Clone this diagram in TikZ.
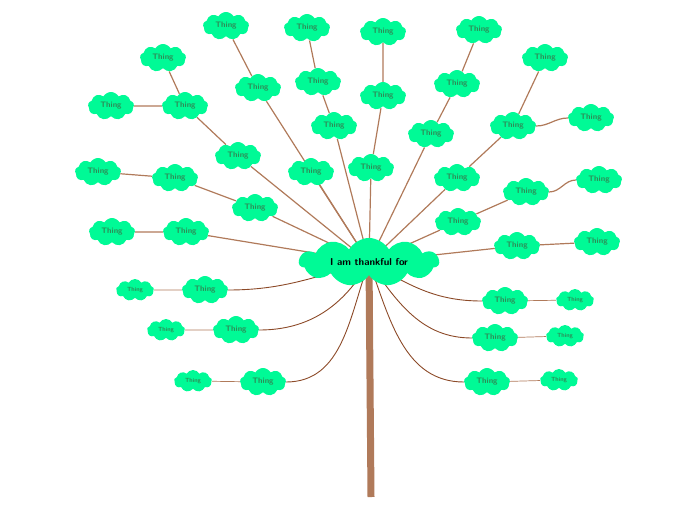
\documentclass[tikz,border=0pt]{standalone}
\usetikzlibrary{shapes.symbols,backgrounds}
\definecolor{cloudg}{RGB}{0,250,150}
\definecolor{txtg}{RGB}{46,139,87}
\definecolor{lbrown}{RGB}{176,122,90}
\definecolor{dbrown}{RGB}{140,74,40}
\tikzset{
 th/.style={cloud, cloud puffs=9, cloud puff arc=120, aspect=1.7, fill=cloudg, draw=none, inner sep=0pt, minimum width=46pt, minimum height=28pt, text=txtg, font=\sffamily\bfseries\fontsize{8}{9}\selectfont},
 ths/.style={th, minimum width=38pt, minimum height=22pt, font=\sffamily\bfseries\fontsize{6}{7}\selectfont},
 ctr/.style={cloud, cloud puffs=11, cloud puff arc=120, aspect=3.5, fill=cloudg, draw=none, inner sep=0pt, minimum width=140pt, minimum height=40pt, font=\sffamily\bfseries\fontsize{10}{12}\selectfont},
 ln/.style={lbrown, line width=1.2pt},
 cv/.style={dbrown, line width=0.9pt},
 tn/.style={lbrown, line width=0.7pt}
}
\begin{document}
\begin{tikzpicture}[x=1pt,y=-1pt]
\useasboundingbox (0,0) rectangle (696,520);
\coordinate (tb) at (371,497);
\node[ctr] (c) at (369,262) {I am thankful for};
\node[th] (a1) at (238,156) {Thing};
\node[th] (a2) at (185,106) {Thing};
\node[th] (a3) at (163,58) {Thing};
\node[th] (a4) at (111,106) {Thing};
\node[th] (b1) at (258,88) {Thing};
\node[th] (b2) at (226,26) {Thing};
\node[th] (d1) at (334,126) {Thing};
\node[th] (d2) at (318,82) {Thing};
\node[th] (d3) at (307,28) {Thing};
\node[th] (e1) at (371,168) {Thing};
\node[th] (e2) at (383,96) {Thing};
\node[th] (e3) at (383,32) {Thing};
\node[th] (f1) at (311,172) {Thing};
\node[th] (g1) at (431,134) {Thing};
\node[th] (g2) at (457,84) {Thing};
\node[th] (g3) at (479,30) {Thing};
\node[th] (h1) at (457,178) {Thing};
\node[th] (h2) at (513,126) {Thing};
\node[th] (h3) at (545,58) {Thing};
\node[th] (h4) at (591,118) {Thing};
\node[th] (i1) at (458,222) {Thing};
\node[th] (i2) at (526,192) {Thing};
\node[th] (i3) at (599,180) {Thing};
\node[th] (j1) at (517,246) {Thing};
\node[th] (j2) at (597,242) {Thing};
\node[th] (k1) at (255,208) {Thing};
\node[th] (k2) at (175,178) {Thing};
\node[th] (k3) at (98,172) {Thing};
\node[th] (l1) at (186,232) {Thing};
\node[th] (l2) at (112,232) {Thing};
\node[th] (m1) at (205,290) {Thing};
\node[ths] (m2) at (135,290) {Thing};
\node[th] (n1) at (236,330) {Thing};
\node[ths] (n2) at (166,330) {Thing};
\node[th] (o1) at (263,382) {Thing};
\node[ths] (o2) at (193,381) {Thing};
\node[th] (p1) at (505,301) {Thing};
\node[ths] (p2) at (575,300) {Thing};
\node[th] (q1) at (495,338) {Thing};
\node[ths] (q2) at (565,336) {Thing};
\node[th] (r1) at (487,382) {Thing};
\node[ths] (r2) at (559,380) {Thing};
\begin{scope}[on background layer]
\draw[lbrown, line width=7pt] (c.center) -- (tb);
\draw[ln] (c.center) -- (a1) -- (a2) -- (a3);
\draw[ln] (a2) -- (a4);
\draw[ln] (c.center) -- (b1) -- (b2);
\draw[ln] (c.center) -- (d1) -- (d2) -- (d3);
\draw[ln] (c.center) -- (e1) -- (e2) -- (e3);
\draw[ln] (c.center) -- (f1);
\draw[ln] (c.center) -- (g1) -- (g2) -- (g3);
\draw[ln] (c.center) -- (h1) -- (h2) -- (h3);
\draw[ln] (h2) to[out=0,in=180] (h4);
\draw[ln] (c.center) -- (i1) -- (i2);
\draw[ln] (i2) to[out=0,in=180] (i3);
\draw[ln] (c.center) -- (j1) -- (j2);
\draw[ln] (c.center) -- (k1) -- (k2) -- (k3);
\draw[ln] (c.center) -- (l1) -- (l2);
\draw[cv] (c.center) to[out=195,in=0] (m1.east);
\draw[cv] (c.center) to[out=240,in=0] (n1.east);
\draw[cv] (c.center) to[out=250,in=0] (o1.east);
\draw[cv] (c.center) to[out=-30,in=180] (p1.west);
\draw[cv] (c.center) to[out=-55,in=180] (q1.west);
\draw[cv] (c.center) to[out=-70,in=180] (r1.west);
\draw[tn] (m1) -- (m2); \draw[tn] (n1) -- (n2); \draw[tn] (o1) -- (o2);
\draw[tn] (p1) -- (p2); \draw[tn] (q1) -- (q2); \draw[tn] (r1) -- (r2);
\end{scope}
\end{tikzpicture}
\end{document}
